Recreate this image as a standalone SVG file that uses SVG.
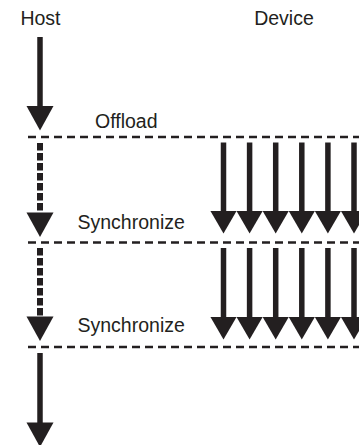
<svg xmlns="http://www.w3.org/2000/svg" xmlns:xlink="http://www.w3.org/1999/xlink" width="359" height="445" viewBox="0 0 359 445">
  <style>
    .label { font-family: "Liberation Sans", Arial, sans-serif; font-size: 19.5px; fill: #231f20; }
    .shaft { stroke: #231f20; stroke-width: 5.5; fill: none; }
    .shaft-dash { stroke: #231f20; stroke-width: 6; fill: none; stroke-dasharray: 7.5 2.5; }
    .sep { stroke: #231f20; stroke-width: 2.5; fill: none; stroke-dasharray: 8 5; }
    .head { fill: #231f20; }
  </style>
  <defs>
    <!-- arrowheads, tip at the origin -->
    <polygon id="hostHead" class="head" points="-13.5,-24.5 13.5,-24.5 0,0"/>
    <polygon id="devHead" class="head" points="-13.05,-22.5 13.05,-22.5 0,0"/>
  </defs>

  <rect width="359" height="445" fill="#ffffff"/>

  <!-- phase separators -->
  <g id="separators">
    <line class="sep" x1="28" y1="137" x2="359" y2="137"/>
    <line class="sep" x1="28" y1="242.5" x2="359" y2="242.5"/>
    <line class="sep" x1="28" y1="347" x2="359" y2="347"/>
  </g>

  <!-- column titles -->
  <g id="host-title"><text class="label" x="40.5" y="25" text-anchor="middle">Host</text></g>
  <g id="device-title"><text class="label" x="284" y="25" text-anchor="middle">Device</text></g>

  <!-- step labels -->
  <g id="offload-label"><text class="label" x="95" y="128">Offload</text></g>
  <g id="sync1-label"><text class="label" x="77.5" y="228.5">Synchronize</text></g>
  <g id="sync2-label"><text class="label" x="77.5" y="332">Synchronize</text></g>

  <g id="connectors">
    <!-- host timeline -->
    <g id="host-arrows">
      <line class="shaft" x1="40" y1="37" x2="40" y2="108"/>
      <use xlink:href="#hostHead" x="40" y="130.5"/>
      <line class="shaft-dash" x1="40" y1="143" x2="40" y2="213"/>
      <use xlink:href="#hostHead" x="40" y="237"/>
      <line class="shaft-dash" x1="40" y1="248" x2="40" y2="317"/>
      <use xlink:href="#hostHead" x="40" y="341"/>
      <line class="shaft" x1="40" y1="353" x2="40" y2="424"/>
      <use xlink:href="#hostHead" x="40" y="447"/>
    </g>

    <!-- device parallel work, first phase -->
    <g id="device-phase1">
      <line class="shaft" x1="223.5" y1="142.5" x2="223.5" y2="213"/>
      <line class="shaft" x1="249.6" y1="142.5" x2="249.6" y2="213"/>
      <line class="shaft" x1="275.7" y1="142.5" x2="275.7" y2="213"/>
      <line class="shaft" x1="301.8" y1="142.5" x2="301.8" y2="213"/>
      <line class="shaft" x1="327.9" y1="142.5" x2="327.9" y2="213"/>
      <line class="shaft" x1="354" y1="142.5" x2="354" y2="213"/>
      <use xlink:href="#devHead" x="223.5" y="233.5"/>
      <use xlink:href="#devHead" x="249.6" y="233.5"/>
      <use xlink:href="#devHead" x="275.7" y="233.5"/>
      <use xlink:href="#devHead" x="301.8" y="233.5"/>
      <use xlink:href="#devHead" x="327.9" y="233.5"/>
      <use xlink:href="#devHead" x="354" y="233.5"/>
    </g>

    <!-- device parallel work, second phase -->
    <g id="device-phase2">
      <line class="shaft" x1="223.5" y1="248" x2="223.5" y2="318"/>
      <line class="shaft" x1="249.6" y1="248" x2="249.6" y2="318"/>
      <line class="shaft" x1="275.7" y1="248" x2="275.7" y2="318"/>
      <line class="shaft" x1="301.8" y1="248" x2="301.8" y2="318"/>
      <line class="shaft" x1="327.9" y1="248" x2="327.9" y2="318"/>
      <line class="shaft" x1="354" y1="248" x2="354" y2="318"/>
      <use xlink:href="#devHead" x="223.5" y="339.5"/>
      <use xlink:href="#devHead" x="249.6" y="339.5"/>
      <use xlink:href="#devHead" x="275.7" y="339.5"/>
      <use xlink:href="#devHead" x="301.8" y="339.5"/>
      <use xlink:href="#devHead" x="327.9" y="339.5"/>
      <use xlink:href="#devHead" x="354" y="339.5"/>
    </g>
  </g>
</svg>
